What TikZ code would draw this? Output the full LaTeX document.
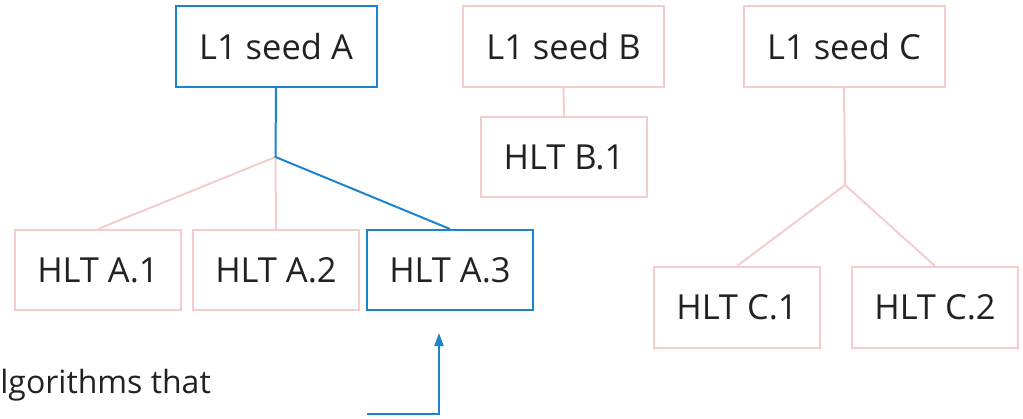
\documentclass[tikz,border=0pt]{standalone}
\usepackage{fontspec}
\setmainfont{Open Sans}
\usetikzlibrary{arrows.meta}
\definecolor{pinkline}{HTML}{F4CCCC}
\definecolor{blueline}{HTML}{1A85CC}
\definecolor{txtcol}{HTML}{222222}
\begin{document}
\begin{tikzpicture}[x=1pt,y=-1pt,
  box/.style={draw=pinkline, line width=2pt, rectangle, inner sep=0pt,
    text=txtcol, font=\fontsize{34.5}{40}\selectfont,
    minimum width=166pt, minimum height=80pt},
  seedbox/.style={box, minimum width=201pt, minimum height=81pt},
  selbox/.style={draw=blueline},
  pinkedge/.style={draw=pinkline, line width=2pt},
  blueedge/.style={draw=blueline, line width=2pt},
  note/.style={text=txtcol, font=\fontsize{32}{38}\selectfont, inner sep=0pt}
]
\useasboundingbox (0,0) rectangle (1023,418);
\clip (0,0) rectangle (1023,418);

% seeds
\node[seedbox, selbox] (sA) at (276,46.5) {L1 seed A};
\node[seedbox] (sB) at (563.5,46.5) {L1 seed B};
\node[seedbox] (sC) at (844,46.5) {L1 seed C};

% HLT paths
\node[box] (b1) at (564,157) {HLT B.1};
\node[box] (a1) at (98,270) {HLT A.1};
\node[box] (a2) at (276,270) {HLT A.2};
\node[box, selbox] (a3) at (450,270) {HLT A.3};
\node[box, minimum height=81pt] (c1) at (737,307.5) {HLT C.1};
\node[box, minimum height=81pt] (c2) at (935,307.5) {HLT C.2};

% junctions
\coordinate (jA) at (275.5,157);
\coordinate (jC) at (845,185);

% edges
\draw[pinkedge] (jA) -- (a1.north);
\draw[pinkedge] (jA) -- (a2.north);
\draw[blueedge] (sA.south) -- (jA) -- (a3.north);
\draw[pinkedge] (sB.south) -- (b1.north);
\draw[pinkedge] (sC.south) -- (jC);
\draw[pinkedge] (jC) -- (c1.north);
\draw[pinkedge] (jC) -- (c2.north);

% note and arrow
\node[note, anchor=base west] (txt1) at (0.2,393) {lgorithms that};
\coordinate (arrS) at (367,414);
\coordinate (arrT) at (439,333);
\draw[blueedge, -{Triangle[length=13pt,width=9pt]}] (arrS) -| (arrT);
\end{tikzpicture}
\end{document}
